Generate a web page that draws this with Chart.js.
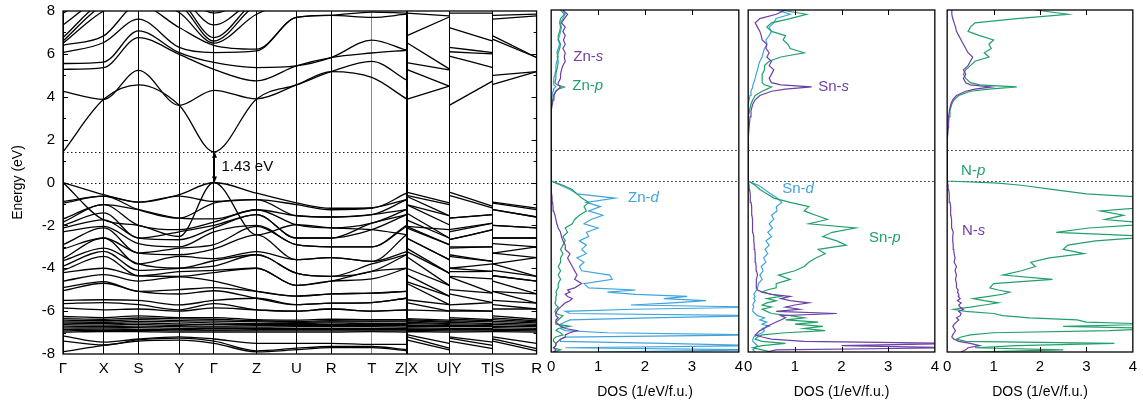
<!DOCTYPE html>
<html>
<head>
<meta charset="utf-8">
<script src="https://cdn.jsdelivr.net/npm/chart.js@4.4.1/dist/chart.umd.min.js"></script>
<style>
html, body { margin: 0; padding: 0; background: #fff; }
#wrap { position: relative; width: 1143px; height: 408px; overflow: hidden; }
canvas { position: absolute; top: 0; }
</style>
</head>
<body>
<div id="wrap">
  <canvas id="bands" width="548" height="416" style="left:0px; top:-6px"></canvas>
  <canvas id="dosZn" width="208" height="408" style="left:541px"></canvas>
  <canvas id="dosSn" width="207" height="408" style="left:738px"></canvas>
  <canvas id="dosN" width="206" height="408" style="left:937px"></canvas>
</div>
<script>
// k-path (distance along path) and labels of the high-symmetry points
const kNodes = [0, 41, 76, 117, 152, 195, 235, 270, 311, 346, 389, 433, 477];
const kLabels = ['Γ', 'X', 'S', 'Y', 'Γ', 'Z', 'U', 'R', 'T', 'Z|X', 'U|Y', 'T|S', 'R'];
// band energies are given at: Γ X S Y Γ Z U R T Z | X U | Y T | S R
const kPath = [0, 41, 76, 117, 152, 195, 235, 270, 311, 346, 346, 389, 389, 433, 433, 477];
const pathBreaks = [10, 12, 14];
const gapEnergy = 1.43;

const conductionBands = [
  [1.43, 3.88, 4.55, 3.6, 1.43, 3.9, 4.55, 5.17, 4.9, 3.9, 3.88, 4.5, 3.6, 4.74, 4.58, 5.17],
  [4.25, 3.88, 5.23, 3.6, 4.3, 3.9, 4.55, 5.17, 5.65, 4.78, 5.28, 4.5, 5.9, 5.36, 5.0, 5.17],
  [5.28, 5.36, 6.76, 5.98, 5.28, 4.74, 5.44, 5.83, 6.04, 6.17, 5.59, 5.25, 6.1, 6.0, 6.68, 5.83],
  [5.55, 5.62, 7.07, 6.06, 5.6, 5.36, 5.44, 5.83, 6.64, 6.17, 6.53, 5.3, 6.3, 6.06, 6.84, 5.83],
  [6.06, 6.53, 7.62, 6.3, 6.06, 6.14, 7.7, 7.8, 7.7, 7.85, 6.84, 7.72, 7.23, 6.6, 7.62, 7.77],
  [6.4, 6.84, 8.3, 7.23, 6.4, 6.22, 7.7, 7.8, 7.95, 7.9, 7.9, 7.77, 7.9, 7.9, 7.8, 7.85],
  [6.5, 8.0, 8.5, 7.93, 6.5, 7.85, 8.4, 8.4, 8.4, 8.4, 8.4, 8.4, 8.4, 8.4, 8.4, 8.4],
  [6.6, 8.3, 8.6, 8.3, 6.6, 8.3, 8.6, 8.6, 8.6, 8.6, 8.6, 8.6, 8.6, 8.6, 8.6, 8.6],
  [6.76, 8.5, 8.8, 8.5, 6.76, 8.5, 8.8, 8.8, 8.8, 8.8, 8.8, 8.8, 8.8, 8.8, 8.8, 8.8],
  [7.35, 8.7, 9.0, 8.7, 7.35, 8.6, 9.0, 9.0, 9.0, 9.0, 9.0, 9.0, 9.0, 9.0, 9.0, 9.0],
  [7.9, 8.9, 9.2, 8.9, 7.9, 8.8, 9.2, 9.2, 9.2, 9.2, 9.2, 9.2, 9.2, 9.2, 9.2, 9.2]
];

const valenceBands = [
  [0, -0.57, -0.92, -0.57, 0, -0.5, -0.95, -1.2, -1.19, -0.5, -0.45, -0.95, -0.45, -1.11, -0.92, -1.2],
  [0, -1.74, -2.0, -2.52, 0, -2.44, -1.97, -2.12, -2.2, -2.44, -2.05, -2.2, -2.67, -2.2, -2.0, -2.12],
  [-0.88, -0.64, -0.92, -0.64, -0.88, -0.8, -1.03, -1.27, -1.19, -0.8, -0.6, -1.03, -0.6, -1.19, -0.96, -1.27],
  [-0.96, -0.64, -1.27, -1.66, -0.96, -0.8, -1.55, -1.61, -1.5, -0.8, -0.64, -1.55, -1.66, -1.5, -1.27, -1.61],
  [-1.7, -1.03, -1.27, -1.66, -1.7, -1.27, -1.55, -1.61, -1.5, -1.27, -1.03, -1.55, -1.66, -1.5, -1.27, -1.61],
  [-1.85, -1.03, -2.0, -2.2, -1.85, -1.27, -1.97, -2.12, -1.9, -1.27, -1.03, -1.97, -2.2, -1.9, -2.0, -2.12],
  [-2.0, -1.42, -2.59, -2.3, -2.0, -1.5, -2.59, -2.59, -1.9, -1.5, -1.42, -2.59, -2.3, -1.9, -2.59, -2.59],
  [-2.12, -1.74, -2.59, -2.67, -2.12, -1.5, -2.59, -2.59, -2.2, -1.5, -1.74, -2.59, -2.67, -2.2, -2.59, -2.59],
  [-2.3, -2.05, -2.85, -3.0, -2.3, -2.0, -2.9, -3.0, -3.0, -2.0, -2.05, -2.9, -3.0, -3.0, -2.85, -3.0],
  [-2.9, -2.12, -3.29, -3.06, -2.9, -2.05, -2.9, -3.0, -3.0, -2.05, -2.12, -2.9, -3.06, -3.0, -3.29, -3.0],
  [-3.1, -2.59, -3.29, -3.37, -3.1, -2.44, -3.6, -3.5, -3.68, -2.44, -2.59, -3.6, -3.37, -3.68, -3.29, -3.5],
  [-3.55, -2.59, -3.8, -3.45, -3.55, -3.22, -3.6, -3.5, -3.68, -3.22, -2.59, -3.6, -3.45, -3.68, -3.8, -3.5],
  [-3.65, -3.06, -3.8, -4.0, -3.65, -3.37, -4.23, -4.38, -3.8, -3.37, -3.06, -4.23, -4.0, -3.8, -3.8, -4.38],
  [-3.9, -3.21, -4.1, -4.0, -3.9, -3.37, -4.23, -4.38, -4.15, -3.37, -3.21, -4.23, -4.0, -4.15, -4.1, -4.38],
  [-4.1, -3.45, -4.35, -4.16, -4.1, -4.0, -4.8, -4.6, -4.15, -4.0, -3.45, -4.8, -4.16, -4.15, -4.35, -4.6],
  [-4.2, -4.0, -4.35, -4.38, -4.2, -4.0, -4.8, -4.6, -4.5, -4.0, -4.0, -4.8, -4.38, -4.5, -4.35, -4.6],
  [-4.6, -4.3, -4.6, -4.4, -4.6, -5.08, -5.3, -5.2, -5.16, -5.08, -4.3, -5.3, -4.4, -5.16, -4.6, -5.2],
  [-4.9, -4.62, -5.08, -5.0, -4.9, -5.08, -5.3, -5.2, -5.16, -5.08, -4.62, -5.3, -5.0, -5.16, -5.08, -5.2],
  [-5.05, -4.7, -5.08, -5.2, -5.05, -5.4, -5.7, -5.63, -5.6, -5.4, -4.7, -5.7, -5.2, -5.6, -5.08, -5.63],
  [-5.5, -5.47, -5.5, -5.71, -5.5, -5.4, -5.7, -5.63, -5.6, -5.4, -5.47, -5.7, -5.71, -5.6, -5.5, -5.63],
  [-5.65, -5.6, -5.7, -5.94, -5.65, -5.94, -6.0, -5.9, -6.0, -5.94, -5.6, -6.0, -5.94, -6.0, -5.7, -5.9],
  [-5.85, -5.94, -5.9, -6.0, -5.85, -5.94, -6.0, -5.9, -6.0, -5.94, -5.94, -6.0, -6.0, -6.0, -5.9, -5.9]
];

const dBands = [
  [-6.25, -6.3, -6.22, -6.3, -6.3, -6.4, -6.42, -6.38, -6.4, -6.4, -6.35, -6.42, -6.3, -6.4, -6.22, -6.38],
  [-6.35, -6.38, -6.32, -6.36, -6.38, -6.45, -6.48, -6.45, -6.46, -6.45, -6.4, -6.48, -6.38, -6.45, -6.32, -6.45],
  [-6.42, -6.45, -6.4, -6.44, -6.46, -6.5, -6.52, -6.5, -6.5, -6.5, -6.45, -6.52, -6.45, -6.5, -6.4, -6.5],
  [-6.5, -6.52, -6.48, -6.5, -6.55, -6.58, -6.58, -6.55, -6.58, -6.58, -6.52, -6.58, -6.52, -6.58, -6.48, -6.55],
  [-6.56, -6.58, -6.55, -6.6, -6.62, -6.62, -6.62, -6.62, -6.62, -6.62, -6.58, -6.62, -6.6, -6.62, -6.55, -6.62],
  [-6.63, -6.65, -6.62, -6.68, -6.7, -6.68, -6.68, -6.68, -6.68, -6.68, -6.65, -6.68, -6.68, -6.68, -6.62, -6.68],
  [-6.7, -6.72, -6.7, -6.72, -6.75, -6.75, -6.72, -6.72, -6.72, -6.75, -6.72, -6.72, -6.72, -6.72, -6.7, -6.72],
  [-6.78, -6.78, -6.77, -6.8, -6.8, -6.8, -6.8, -6.8, -6.8, -6.8, -6.78, -6.8, -6.8, -6.8, -6.77, -6.8],
  [-6.85, -6.84, -6.85, -6.86, -6.88, -6.86, -6.86, -6.86, -6.86, -6.86, -6.84, -6.86, -6.86, -6.86, -6.85, -6.86],
  [-6.92, -6.9, -6.9, -6.92, -6.92, -6.92, -6.92, -6.92, -6.92, -6.92, -6.9, -6.92, -6.92, -6.92, -6.9, -6.92],
  [-6.98, -6.95, -6.96, -6.98, -6.98, -6.98, -6.98, -6.98, -6.96, -6.98, -6.95, -6.98, -6.98, -6.96, -6.96, -6.98]
];

const deepBands = [
  [-7.15, -7.45, -7.3, -7.2, -7.3, -7.5, -7.5, -7.5, -7.55, -7.55, -7.1, -7.5, -7.2, -7.45, -7.2, -7.5],
  [-7.4, -7.58, -7.34, -7.26, -7.4, -7.85, -7.73, -7.65, -7.65, -7.8, -7.19, -7.73, -7.26, -7.6, -7.3, -7.75],
  [-7.89, -7.6, -7.4, -7.35, -7.5, -7.9, -7.8, -7.7, -7.7, -7.85, -7.34, -7.81, -7.4, -7.75, -7.4, -7.85]
];

// DOS energy grid (eV)
const dosEnergy = [
  -8.0, -7.9, -7.8, -7.7, -7.6, -7.5, -7.4, -7.3, -7.2, -7.1, -7.0, -6.9, -6.8, -6.7, -6.6, -6.5,
  -6.4, -6.3, -6.2, -6.1, -6.0, -5.9, -5.8, -5.7, -5.6, -5.5, -5.4, -5.3, -5.2, -5.1, -5.0,
  -4.8, -4.6, -4.4, -4.2, -4.0, -3.8, -3.6, -3.4, -3.2, -3.0, -2.8, -2.6, -2.4, -2.2, -2.0,
  -1.8, -1.6, -1.4, -1.2, -1.0, -0.8, -0.6, -0.4, -0.2, -0.1, 0.0,
  0.5, 1.0, 1.5, 2.0, 2.5, 3.0, 3.3, 3.6, 3.8, 4.0, 4.2, 4.3, 4.4, 4.5, 4.6, 4.8,
  5.0, 5.2, 5.4, 5.6, 5.8, 6.0, 6.2, 6.4, 6.6, 6.8, 7.0, 7.2, 7.4, 7.6, 7.8, 8.0
];

const znS = [
  0.05, 0.1, 0.05, 0.1, 0.1, 0.15, 0.2, 0.3, 0.3, 0.4, 0.55, 0.3, 0.2, 0.15, 0.1, 0.1,
  0.15, 0.1, 0.1, 0.12, 0.15, 0.2, 0.25, 0.3, 0.4, 0.45, 0.35, 0.3, 0.4, 0.35, 0.5,
  0.65, 0.5, 0.55, 0.5, 0.45, 0.4, 0.35, 0.4, 0.3, 0.3, 0.25, 0.22, 0.2, 0.15, 0.12,
  0.1, 0.08, 0.05, 0.04, 0.03, 0.02, 0.01, 0.01, 0, 0, 0,
  0, 0, 0, 0, 0, 0, 0.01, 0.02, 0.04, 0.06, 0.1, 0.15, 0.2, 0.15, 0.15, 0.2,
  0.2, 0.22, 0.25, 0.3, 0.28, 0.3, 0.25, 0.3, 0.26, 0.3, 0.25, 0.3, 0.22, 0.28, 0.35, 0.25
];
const znP = [
  0.05, 0.2, 0.05, 0.1, 0.1, 0.05, 0.05, 0.1, 0.25, 0.2, 0.1, 0.15, 0.4, 0.1, 0.1, 0.15,
  0.2, 0.25, 0.1, 0.08, 0.1, 0.15, 0.1, 0.08, 0.1, 0.1, 0.1, 0.12, 0.1, 0.12, 0.15,
  0.15, 0.2, 0.15, 0.2, 0.15, 0.2, 0.2, 0.25, 0.2, 0.25, 0.3, 0.25, 0.35, 0.3, 0.45,
  0.5, 0.6, 0.75, 0.7, 0.8, 0.65, 0.55, 0.45, 0.25, 0.12, 0,
  0, 0, 0, 0, 0, 0.01, 0.01, 0.02, 0.03, 0.05, 0.1, 0.15, 0.28, 0.12, 0.08, 0.1,
  0.1, 0.12, 0.14, 0.15, 0.13, 0.15, 0.18, 0.2, 0.16, 0.15, 0.18, 0.2, 0.18, 0.2, 0.28, 0.2
];
const znD = [
  1.0, 4.5, 0.3, 4.5, 2.4, 0.2, 0.2, 0.3, 4.5, 1.2, 0.3, 0.2, 0.25, 0.2, 0.3, 0.4,
  2.1, 4.5, 0.4, 0.3, 1.75, 4.5, 1.7, 2.6, 3.3, 2.4, 2.9, 1.8, 1.2, 1.8, 0.8,
  0.7, 1.3, 1.25, 0.65, 0.6, 0.7, 0.55, 0.75, 0.65, 0.75, 0.6, 0.8, 0.75, 1.0, 0.7,
  0.85, 1.1, 0.8, 1.05, 0.75, 1.36, 0.55, 0.4, 0.2, 0.1, 0,
  0, 0, 0, 0, 0, 0, 0, 0, 0.01, 0.02, 0.04, 0.05, 0.1, 0.06, 0.05, 0.06,
  0.08, 0.1, 0.1, 0.12, 0.15, 0.12, 0.15, 0.18, 0.15, 0.18, 0.2, 0.22, 0.2, 0.25, 0.3, 0.25
];
const snS = [
  0.4, 0.6, 4.5, 2.0, 4.5, 1.2, 0.5, 0.3, 0.15, 0.2, 0.25, 0.35, 0.4, 0.5, 0.6, 0.7,
  0.8, 0.7, 1.9, 0.6, 1.1, 0.8, 1.0, 1.3, 0.9, 0.7, 0.9, 0.5, 0.3, 0.2, 0.18,
  0.17, 0.18, 0.2, 0.18, 0.17, 0.16, 0.15, 0.15, 0.14, 0.13, 0.12, 0.12, 0.1, 0.1, 0.09,
  0.09, 0.08, 0.08, 0.07, 0.06, 0.05, 0.04, 0.03, 0.02, 0.01, 0,
  0, 0, 0, 0.01, 0.02, 0.04, 0.06, 0.1, 0.15, 0.25, 0.5, 0.8, 1.36, 0.7, 0.5, 0.45,
  0.5, 0.55, 0.45, 0.5, 0.4, 0.45, 0.38, 0.4, 0.3, 0.28, 0.25, 0.2, 0.15, 0.25, 0.6, 0.8
];
const snP = [
  0.5, 0.3, 0.1, 0.3, 0.8, 0.3, 0.15, 0.2, 0.3, 0.8, 1.65, 1.2, 1.6, 1.0, 1.5, 0.8,
  1.2, 0.9, 0.5, 0.4, 0.3, 0.5, 0.3, 0.4, 0.6, 0.4, 0.7, 0.5, 0.3, 0.4, 0.6,
  0.6, 0.9, 0.65, 1.0, 1.2, 1.3, 1.45, 1.65, 1.5, 2.1, 1.9, 1.6, 1.8, 2.3, 1.3,
  1.7, 1.45, 1.2, 1.3, 0.9, 0.55, 0.4, 0.25, 0.15, 0.08, 0,
  0, 0, 0, 0, 0, 0.01, 0.03, 0.06, 0.1, 0.15, 0.3, 0.4, 0.5, 0.35, 0.3, 0.3,
  0.3, 0.35, 0.35, 0.45, 0.7, 1.2, 0.9, 0.85, 0.75, 0.8, 0.5, 0.4, 0.5, 0.9, 1.25, 0.7
];
const snD = [
  0.15, 0.1, 0.15, 0.2, 0.15, 0.1, 0.1, 0.12, 0.2, 0.3, 0.35, 0.3, 0.45, 0.3, 0.4, 0.25,
  0.35, 0.2, 0.15, 0.1, 0.1, 0.12, 0.1, 0.12, 0.15, 0.12, 0.15, 0.12, 0.15, 0.18, 0.2,
  0.22, 0.3, 0.25, 0.32, 0.28, 0.38, 0.33, 0.42, 0.36, 0.45, 0.38, 0.5, 0.42, 0.52, 0.45,
  0.55, 0.5, 0.62, 0.6, 0.72, 0.62, 0.48, 0.35, 0.22, 0.1, 0,
  0, 0, 0, 0, 0, 0, 0, 0, 0.02, 0.04, 0.06, 0.08, 0.1, 0.1, 0.12, 0.15,
  0.17, 0.2, 0.22, 0.25, 0.3, 0.32, 0.35, 0.4, 0.38, 0.45, 0.5, 0.45, 0.55, 0.6, 0.9, 0.6
];
const nS = [
  0.3, 0.4, 0.45, 0.7, 0.5, 0.25, 0.15, 0.1, 0.12, 0.15, 0.18, 0.15, 0.12, 0.15, 0.2, 0.25,
  0.2, 0.28, 0.3, 0.25, 0.35, 0.28, 0.25, 0.3, 0.22, 0.28, 0.24, 0.25, 0.22, 0.24, 0.2,
  0.2, 0.18, 0.2, 0.17, 0.2, 0.15, 0.17, 0.15, 0.14, 0.13, 0.12, 0.12, 0.13, 0.1, 0.1,
  0.09, 0.08, 0.08, 0.07, 0.06, 0.05, 0.04, 0.03, 0.02, 0.01, 0,
  0, 0, 0.01, 0.01, 0.02, 0.03, 0.05, 0.08, 0.12, 0.2, 0.4, 0.6, 0.95, 0.5, 0.4, 0.35,
  0.4, 0.35, 0.45, 0.5, 0.55, 0.45, 0.4, 0.35, 0.3, 0.25, 0.2, 0.18, 0.15, 0.12, 0.1, 0.1
];
const nP = [
  0.5, 2.5, 0.6, 1.5, 3.6, 0.4, 0.2, 0.3, 0.5, 1.0, 3.5, 4.5, 2.5, 4.5, 3.0, 2.8,
  1.77, 1.2, 1.0, 0.4, 0.14, 0.5, 0.8, 1.1, 0.8, 0.56, 0.9, 1.2, 1.35, 1.1, 0.92,
  1.0, 2.27, 1.2, 1.6, 1.9, 1.8, 2.2, 2.95, 2.5, 2.6, 3.2, 4.5, 2.35, 3.05, 4.5,
  3.4, 3.8, 3.3, 4.5, 4.5, 4.5, 3.0, 2.3, 1.6, 1.1, 0,
  0, 0, 0.01, 0.01, 0.02, 0.04, 0.06, 0.1, 0.15, 0.25, 0.5, 0.9, 1.5, 0.7, 0.5, 0.4,
  0.35, 0.4, 0.5, 0.6, 0.9, 0.8, 0.95, 0.9, 1.0, 0.7, 0.45, 0.5, 0.6, 1.5, 2.6, 1.9
];

const PURPLE = '#6b3fa6';
const GREEN = '#22a06b';
const BLUE = '#40a4dc';
const FAMILY = '"Liberation Sans", Arial, Helvetica, sans-serif';
Chart.defaults.font.family = FAMILY;
Chart.defaults.color = '#000';

function bandPoints(band) {
  const pts = [];
  band.forEach((e, i) => {
    if (pathBreaks.includes(i)) pts.push({ x: kPath[i], y: null });
    pts.push({ x: kPath[i], y: e });
  });
  return pts;
}

// frame, inner ticks, dotted lines, labels and the gap arrow
const frame = {
  id: 'frame',
  beforeDatasetsDraw(chart) {
    const { ctx, chartArea: a, scales: { y } } = chart;
    ctx.save();
    ctx.strokeStyle = '#222';
    ctx.lineWidth = 1;
    ctx.setLineDash([1.5, 2.5]);
    [0, gapEnergy].forEach(e => {
      const py = Math.round(y.getPixelForValue(e)) + 0.5;
      ctx.beginPath();
      ctx.moveTo(a.left, py);
      ctx.lineTo(a.right, py);
      ctx.stroke();
    });
    ctx.restore();
  },
  afterDraw(chart, args, o) {
    const { ctx, chartArea: a, scales: { x, y } } = chart;
    ctx.save();
    ctx.strokeStyle = '#000';
    ctx.fillStyle = '#000';
    ctx.lineWidth = 1;
    ctx.beginPath();
    if (o.yTicks) {
      for (let e = -7; e <= 7; e++) {
        const py = Math.round(y.getPixelForValue(e)) + 0.5;
        const len = e % 2 === 0 ? 5 : 3;
        ctx.moveTo(a.left, py); ctx.lineTo(a.left + len, py);
        ctx.moveTo(a.right, py); ctx.lineTo(a.right - len, py);
      }
    }
    if (o.xTicks) {
      for (let v = 1; v <= 3; v++) {
        const px = Math.round(x.getPixelForValue(v)) + 0.5;
        ctx.moveTo(px, a.top); ctx.lineTo(px, a.top + 5);
        ctx.moveTo(px, a.bottom); ctx.lineTo(px, a.bottom - 5);
      }
    }
    ctx.stroke();
    ctx.lineWidth = 1.3;
    ctx.strokeRect(a.left, a.top, a.right - a.left, a.bottom - a.top);

    if (o.gapArrow) {
      const px = Math.round(x.getPixelForValue(kNodes[4])) + 0.5;
      const y0 = y.getPixelForValue(0), y1 = y.getPixelForValue(gapEnergy);
      ctx.lineWidth = 1;
      ctx.beginPath();
      ctx.moveTo(px, y0 - 5); ctx.lineTo(px, y1 + 5);
      ctx.stroke();
      ctx.beginPath();
      ctx.moveTo(px, y0); ctx.lineTo(px - 2.5, y0 - 6); ctx.lineTo(px + 2.5, y0 - 6); ctx.closePath();
      ctx.moveTo(px, y1); ctx.lineTo(px - 2.5, y1 + 6); ctx.lineTo(px + 2.5, y1 + 6); ctx.closePath();
      ctx.fill();
      ctx.font = '15px ' + FAMILY;
      ctx.textAlign = 'left';
      ctx.textBaseline = 'middle';
      ctx.fillText(gapEnergy.toFixed(2) + ' eV', px + 7, (y0 + y1) / 2);
    }

    (o.labels || []).forEach(l => {
      const px = x.getPixelForValue(l.dos), py = y.getPixelForValue(l.energy);
      ctx.fillStyle = l.color;
      ctx.textAlign = 'left';
      ctx.textBaseline = 'middle';
      ctx.font = '15px ' + FAMILY;
      const head = l.atom + '-';
      ctx.fillText(head, px, py);
      const w = ctx.measureText(head).width;
      ctx.font = 'italic 15px ' + FAMILY;
      ctx.fillText(l.orb, px + w, py);
    });
    ctx.restore();
  }
};

const allBands = [].concat(conductionBands, valenceBands, dBands, deepBands);

new Chart(document.getElementById('bands'), {
  type: 'line',
  data: {
    datasets: allBands.map(b => ({
      data: bandPoints(b),
      borderColor: '#000',
      borderWidth: 1.3,
      pointRadius: 0,
      cubicInterpolationMode: 'monotone',
      spanGaps: false
    }))
  },
  options: {
    responsive: false,
    animation: false,
    events: [],
    layout: { padding: { top: 10, right: 8, left: 0, bottom: 0 } },
    plugins: { legend: { display: false }, tooltip: { enabled: false }, frame: { yTicks: true, gapArrow: true } },
    scales: {
      x: {
        type: 'linear', min: 0, max: 477,
        afterBuildTicks: s => { s.ticks = kNodes.map(v => ({ value: v })); },
        afterFit: s => { s.height = 56; },
        ticks: { autoSkip: false, maxRotation: 0, padding: 6, font: { size: 15 }, callback: (v, i) => kLabels[i] },
        grid: { drawTicks: false, color: c => (c.index === 8 ? '#8a8a8a' : '#000'), lineWidth: c => (c.index === 9 ? 2 : 1) },
        border: { display: false }
      },
      y: {
        type: 'linear', min: -8, max: 8,
        afterFit: s => { s.width = 63; },
        ticks: { stepSize: 2, padding: 8, font: { size: 15 } },
        grid: { display: false, drawTicks: false },
        border: { display: false },
        title: { display: true, text: 'Energy (eV)', font: { size: 14 }, padding: { top: 10, bottom: 0 } }
      }
    }
  },
  plugins: [frame]
});

function dosChart(id, series, labels) {
  new Chart(document.getElementById(id), {
    type: 'line',
    data: {
      datasets: series.map(s => ({
        data: dosEnergy.map((e, i) => ({ x: s.values[i], y: e })),
        borderColor: s.color,
        borderWidth: 1.2,
        pointRadius: 0,
        tension: 0
      }))
    },
    options: {
      responsive: false,
      animation: false,
      events: [],
      layout: { padding: { top: 10, left: 10, right: 10, bottom: 0 } },
      plugins: { legend: { display: false }, tooltip: { enabled: false }, frame: { xTicks: true, labels: labels } },
      scales: {
        x: {
          type: 'linear', min: 0, max: 4,
          afterFit: s => { s.height = 56; },
          ticks: { stepSize: 1, padding: 6, font: { size: 15 } },
          grid: { display: false, drawTicks: false },
          border: { display: false },
          title: { display: true, text: 'DOS (1/eV/f.u.)', font: { size: 14 }, padding: { top: 0, bottom: 7 } }
        },
        y: { type: 'linear', min: -8, max: 8, display: false }
      }
    },
    plugins: [frame]
  });
}

dosChart('dosZn',
  [{ values: znS, color: PURPLE }, { values: znP, color: GREEN }, { values: znD, color: BLUE }],
  [
    { atom: 'Zn', orb: 's', dos: 0.47, energy: 5.8, color: PURPLE },
    { atom: 'Zn', orb: 'p', dos: 0.45, energy: 4.45, color: GREEN },
    { atom: 'Zn', orb: 'd', dos: 1.64, energy: -0.79, color: BLUE }
  ]);
dosChart('dosSn',
  [{ values: snS, color: PURPLE }, { values: snP, color: GREEN }, { values: snD, color: BLUE }],
  [
    { atom: 'Sn', orb: 's', dos: 1.5, energy: 4.4, color: PURPLE },
    { atom: 'Sn', orb: 'd', dos: 0.73, energy: -0.36, color: BLUE },
    { atom: 'Sn', orb: 'p', dos: 2.59, energy: -2.65, color: GREEN }
  ]);
dosChart('dosN',
  [{ values: nS, color: PURPLE }, { values: nP, color: GREEN }],
  [
    { atom: 'N', orb: 'p', dos: 0.3, energy: 0.48, color: GREEN },
    { atom: 'N', orb: 's', dos: 0.32, energy: -2.33, color: PURPLE }
  ]);
</script>
</body>
</html>
